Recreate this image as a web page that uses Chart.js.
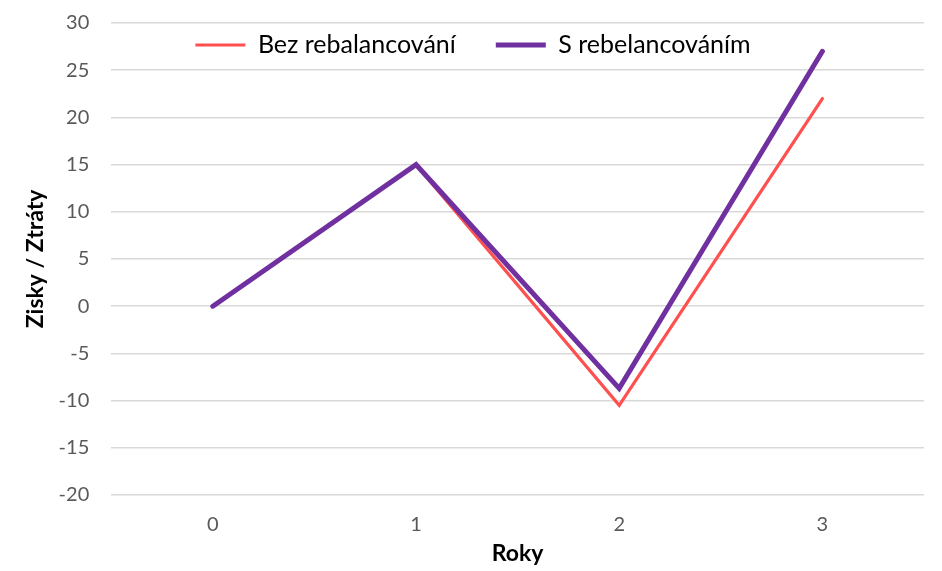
<!DOCTYPE html>
<html>
<head>
<meta charset="utf-8">
<script src="https://cdn.jsdelivr.net/npm/chart.js@4"></script>
<style>
  html, body { margin: 0; padding: 0; background: #fff; }
  #wrap { width: 942px; height: 571px; position: relative; }
</style>
</head>
<body>
<div id="wrap"><canvas id="c"></canvas></div>
<script>
const categories = ['0', '1', '2', '3'];
const bezRebalancovani = [0, 15, -10.5, 22];
const sRebalancovanim = [0, 15, -8.7, 27];
const seriesNames = ['Bez rebalancování', 'S rebelancováním'];
const yTitle = 'Zisky / Ztráty';
const xTitle = 'Roky';

const FONT = 'Lato, "Open Sans", sans-serif';
const LEGEND_FONT = 25;
const LEGEND_PAD = 40;
const LEGEND_CENTER_Y = 45;

// Legend overlays the plot area (as in the reference) instead of taking layout space.
const legendOverlay = {
  id: 'legendOverlay',
  beforeInit(chart) {
    const lg = chart.legend;
    if (!lg) return;
    const fit = lg.fit;
    lg.fit = function () { fit.call(lg); this.height = 0; };
    lg.draw = function () { this._draw(); };
  },
  beforeDraw(chart) {
    const lg = chart.legend;
    if (lg) lg.top = LEGEND_CENTER_Y - LEGEND_PAD - LEGEND_FONT / 2;
  }
};

new Chart(document.getElementById('c'), {
  type: 'line',
  data: {
    labels: categories,
    datasets: [
      {
        label: seriesNames[0],
        data: bezRebalancovani,
        borderColor: '#FF5050',
        backgroundColor: '#FF5050',
        borderWidth: 3.2,
        pointRadius: 0,
        borderCapStyle: 'round',
        borderJoinStyle: 'miter',
        tension: 0,
        order: 2
      },
      {
        label: seriesNames[1],
        data: sRebalancovanim,
        borderColor: '#7030A0',
        backgroundColor: '#7030A0',
        borderWidth: 5,
        pointRadius: 0,
        borderCapStyle: 'round',
        borderJoinStyle: 'miter',
        tension: 0,
        order: 1
      }
    ]
  },
  options: {
    responsive: true,
    maintainAspectRatio: false,
    animation: false,
    layout: { padding: { top: 5, right: 18, bottom: 4, left: 22 } },
    plugins: {
      tooltip: { enabled: false },
      legend: {
        position: 'top',
        labels: {
          usePointStyle: true,
          pointStyle: 'line',
          pointStyleWidth: 50,
          padding: LEGEND_PAD,
          color: '#000',
          font: { family: FONT, size: LEGEND_FONT },
          sort: (a, b) => a.datasetIndex - b.datasetIndex
        }
      }
    },
    scales: {
      x: {
        offset: true,
        grid: { display: false, drawTicks: false },
        border: { display: false },
        ticks: { color: '#595959', font: { family: FONT, size: 20 }, padding: 18 },
        title: { display: true, text: xTitle, color: '#000', font: { family: FONT, size: 23, weight: 'bold' }, padding: { top: -15.6, bottom: 0 } }
      },
      y: {
        min: -20,
        max: 30,
        ticks: { stepSize: 5, color: '#595959', font: { family: FONT, size: 20 }, padding: 11 },
        grid: { color: '#D9D9D9', lineWidth: 1.5, drawTicks: true, tickLength: 11, tickColor: 'rgba(0,0,0,0)' },
        border: { display: false },
        title: { display: true, text: yTitle, color: '#000', font: { family: FONT, size: 23, weight: 'bold' }, padding: { top: 0, bottom: -2 } }
      }
    }
  },
  plugins: [legendOverlay]
});
</script>
</body>
</html>
